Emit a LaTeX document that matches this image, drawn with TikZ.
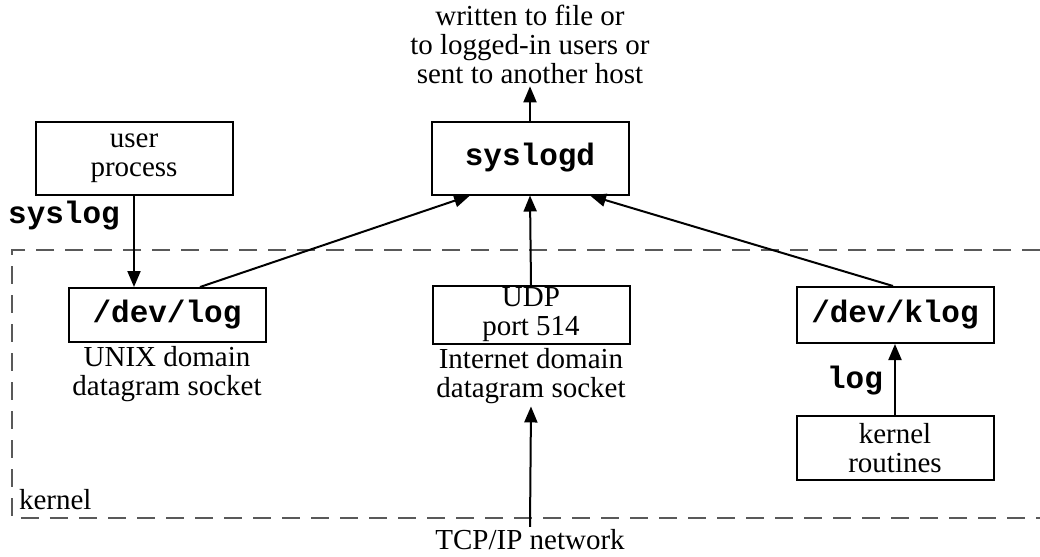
\documentclass[tikz,border=0pt]{standalone}
\usepackage{fontspec}
\setmainfont{Liberation Serif}
\setmonofont{Liberation Mono}
\usetikzlibrary{arrows.meta}
\begin{document}
\begin{tikzpicture}[x=0.5pt, y=-0.5pt, line width=1pt,
	>={Triangle[length=8pt, width=6.5pt]},
	font=\fontsize{14.5}{14.5}\selectfont,
	box/.style={draw, align=center, minimum width=98.5pt, minimum height=36.5pt, inner sep=1pt},
	code/.style={font=\fontsize{15.5}{15}\selectfont\ttfamily\bfseries},
	note/.style={align=center, inner sep=1pt}]
	\useasboundingbox (0, 0) rectangle (1040, 557);
	% kernel
	\draw[gray!70!black, dash pattern=on 9pt off 5.5pt] (1040, 250) -- (12, 250) -- (12, 518) -- (1040, 518);
	\node[anchor=south west, inner sep=1pt] (kernel) at (16, 513) {kernel};
	% boxes
	\node[box] (user) at (134, 158) {user\\process};
	\node[box, code] (syslogd) at (530, 158) {syslogd};
	\node[box, code, minimum height=27pt] (devlog) at (167, 315) {/dev/log};
	\node[box, minimum height=28pt] (udp) at (531, 315) {UDP\\port 514};
	\node[box, code, minimum height=28pt] (klog) at (895, 315) {/dev/klog};
	\node[box, minimum height=32pt] (kern) at (895, 448) {kernel\\routines};
	% texts
	\node[note] (out) at (530, 44) {written to file or\\to logged-in users or\\sent to another host};
	\node[note, below] (unixsock) at (devlog.south) {UNIX domain\\datagram socket};
	\node[note, below] (inetsock) at (udp.south) {Internet domain\\datagram socket};
	\node[note] (tcpip) at (530, 540) {TCP/IP network};
	\node[code] (syslog) at (64, 216) {syslog};
	\node[code] (log) at (855, 381) {log};
	% arrows
	\draw[->] (user.south) -- (user.south |- devlog.north);
	\draw[->] ([xshift=16.5pt]devlog.north) -- ([xshift=-30pt]syslogd.south);
	\draw[->] (udp.north) -- (syslogd.south);
	\draw[->] ([xshift=-1pt]klog.north) -- ([xshift=30pt]syslogd.south);
	\draw[->] (kern.north) -- (klog.south);
	\draw[->] (syslogd.north) -- (out.south);
	\draw[->] (tcpip.north) -- (inetsock.south);
\end{tikzpicture}
\end{document}
